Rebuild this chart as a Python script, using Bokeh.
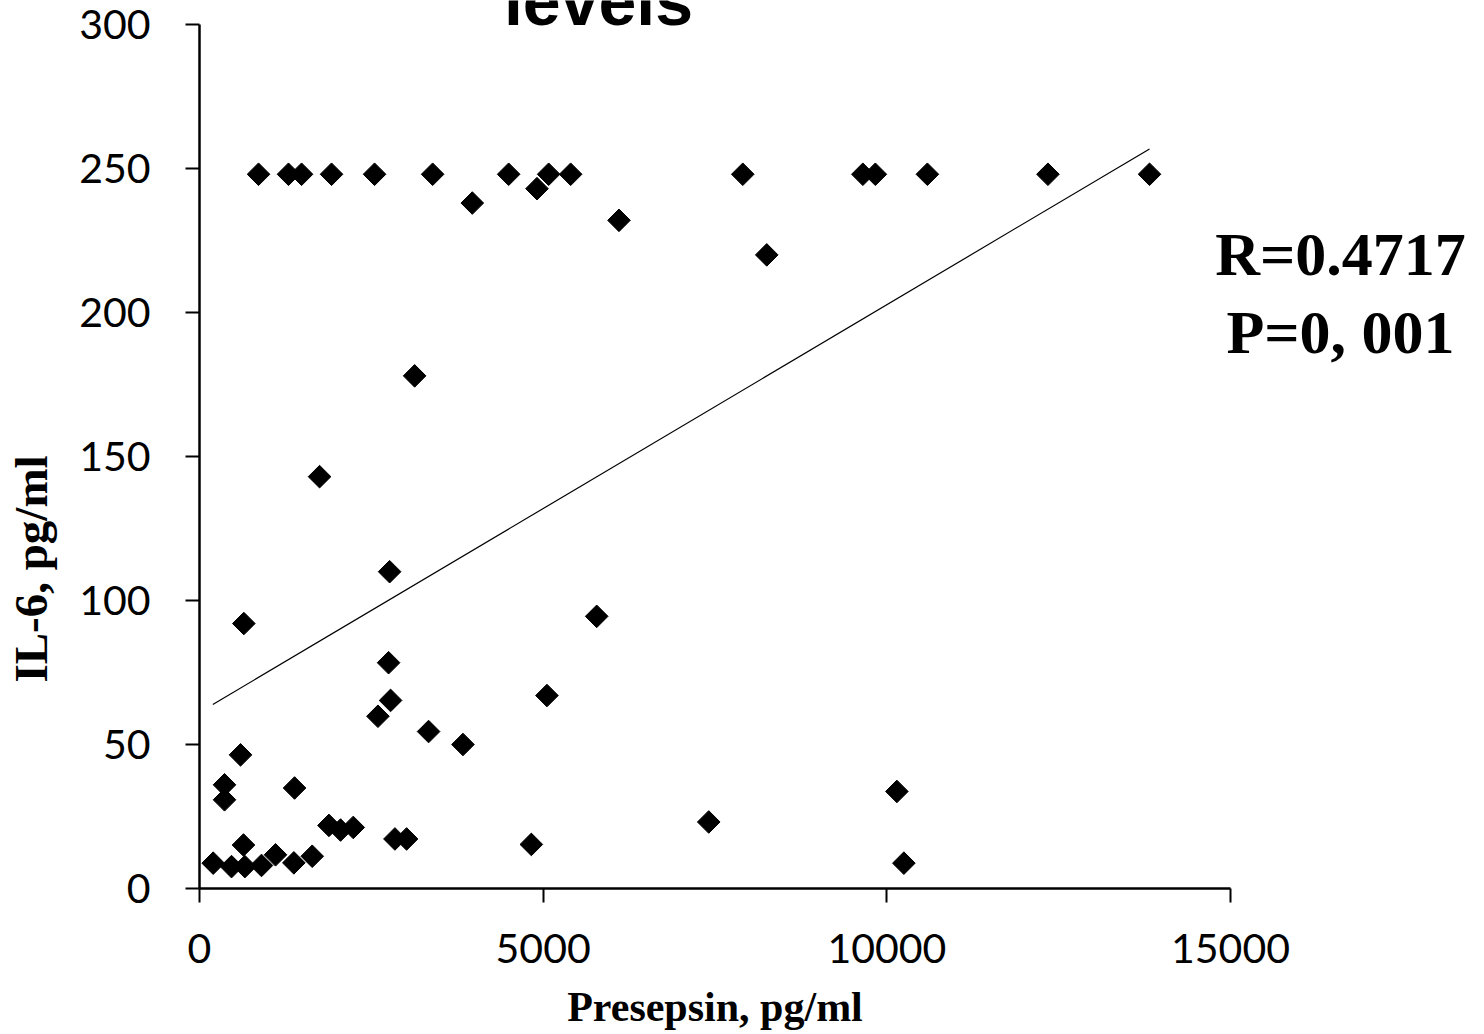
import numpy as np
from bokeh.plotting import figure
from bokeh.models import Range1d, Label, FixedTicker, LinearAxis
from bokeh.embed import file_html
from bokeh.resources import INLINE

# ---- data ----
presepsin = [859, 1295, 1485, 1921, 2547, 3392, 4498, 5080, 5400, 7904,
             9651, 9833, 10590, 12344, 13822,
             3969, 4910, 6103, 8253, 3130, 1747, 2766, 645, 5779, 2751,
             2780, 5055, 2596, 3333, 3833, 597, 364, 364, 1383, 10146,
             7409, 1883, 2052, 2237, 2843, 3013, 4828, 640, 1106, 1640,
             199, 466, 660, 902, 1373, 10248]
il6 = [248, 248, 248, 248, 248, 248, 248, 248, 248, 248,
       248, 248, 248, 248, 248,
       238, 243, 232, 220, 178, 143, 110, 92, 94.5, 78.4,
       65.3, 67, 59.8, 54.5, 50, 46.4, 36, 30.8, 34.9, 33.7,
       23.1, 21.9, 20.3, 21.2, 17.2, 17.2, 15.3, 15.1, 11.7, 11.2,
       8.8, 7.6, 7.6, 8.0, 8.9, 8.8]

trend_x = [194, 13822]
trend_y = [63.9, 256.8]

x_ticks = [0, 5000, 10000, 15000]
y_ticks = [0, 50, 100, 150, 200, 250, 300]
x_min, x_max = 0, 15000
y_min, y_max = 0, 300

title_text = "levels"
x_label = "Presepsin, pg/ml"
y_label = "IL-6, pg/ml"
stat_lines = ["R=0.4717", "P=0, 001"]

# ---- layout (pixels) ----
W, H = 1484, 1034
plot_left, plot_right, plot_top, plot_bottom = 199, 1230, 24, 888
sx = (plot_right - plot_left) / (x_max - x_min)
sy = (plot_bottom - plot_top) / (y_max - y_min)
xr = Range1d(x_min - plot_left / sx, x_min + (W - plot_left) / sx)
yr = Range1d(y_min - (H - plot_bottom) / sy, y_min + plot_bottom / sy)

def px_x(px):
    return x_min + (px - plot_left) / sx

def px_y(py):
    return y_min + (plot_bottom - py) / sy

p = figure(width=W, height=H, min_border=0,
           min_border_left=0, min_border_right=0,
           min_border_top=0, min_border_bottom=0,
           x_range=xr, y_range=yr,
           x_axis_location=None, y_axis_location=None,
           output_backend="svg", toolbar_location=None,
           background_fill_color="white", border_fill_color="white")
p.outline_line_color = None
p.grid.visible = False

xaxis = LinearAxis(fixed_location=y_min, bounds=(x_min, x_max),
                   ticker=FixedTicker(ticks=x_ticks))
yaxis = LinearAxis(fixed_location=x_min, bounds=(y_min, y_max),
                   ticker=FixedTicker(ticks=y_ticks))
for ax in (xaxis, yaxis):
    ax.axis_line_color = "black"
    ax.axis_line_width = 2.5
    ax.major_tick_line_color = "black"
    ax.major_tick_line_width = 2
    ax.major_tick_out = 14
    ax.major_tick_in = 0
    ax.minor_tick_line_color = None
    ax.major_label_text_font = "Lato"
    ax.major_label_text_font_size = "41px"
    ax.major_label_text_color = "black"
xaxis.major_label_standoff = 31
yaxis.major_label_standoff = 35

xaxis.axis_label = x_label
xaxis.axis_label_text_font = "Liberation Serif"
xaxis.axis_label_text_font_style = "bold"
xaxis.axis_label_text_font_size = "42px"
xaxis.axis_label_text_color = "black"
xaxis.axis_label_standoff = 18

p.add_layout(xaxis, "below")
p.add_layout(yaxis, "left")

# trend line and points
p.line(trend_x, trend_y, line_color="black", line_width=1.2)
p.scatter(presepsin, il6, marker="square", size=16, angle=np.pi / 4,
          fill_color="black", line_color="black")

# y axis title (placed off-centre as in the reference)
p.add_layout(Label(x=px_x(30), y=px_y(568.5), text=y_label, angle=np.pi / 2,
                   text_font="Liberation Serif", text_font_style="bold",
                   text_font_size="47px", text_color="black",
                   text_align="center", text_baseline="alphabetic"))

# partially visible title (cut at the top edge, as in the reference)
p.add_layout(Label(x=px_x(598), y=px_y(0), text=title_text,
                   text_font="Liberation Sans", text_font_style="bold",
                   text_font_size="68px", text_color="black",
                   text_align="center", text_baseline="alphabetic"))

# statistics
for txt, py in zip(stat_lines, [253, 331]):
    p.add_layout(Label(x=px_x(1340), y=px_y(py), text=txt,
                       text_font="Liberation Serif", text_font_style="bold",
                       text_font_size="62px", text_color="black",
                       text_align="center", text_baseline="alphabetic"))

open("out.html", "w").write(file_html(p, INLINE))
